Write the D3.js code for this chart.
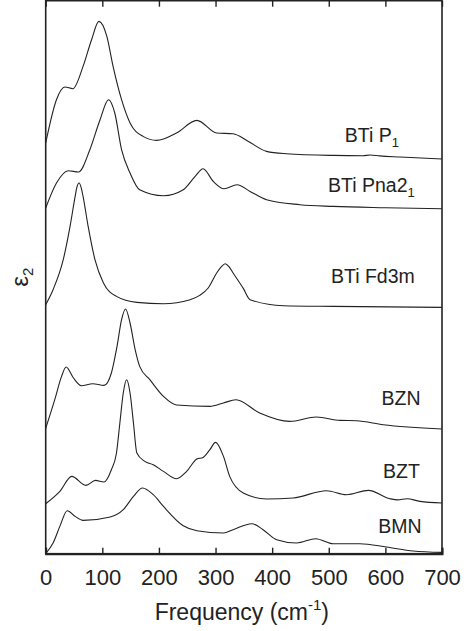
<!DOCTYPE html>
<html>
<head>
<meta charset="utf-8">
<script src="https://cdn.jsdelivr.net/npm/d3@7"></script>
<style>
  body { margin: 0; background: #fff; }
  svg { display: block; }
  text { font-family: "Liberation Sans", Arial, Helvetica, sans-serif; fill: #222; }
</style>
</head>
<body>
<script>
// spectra, frequency in cm-1 and eps2 in arbitrary units above each curve's own offset
const seriesNames = ['BTi P1', 'BTi Pna21', 'BTi Fd3m', 'BZN', 'BZT', 'BMN']
const offsets = [39.47, 34.5, 24.63, 12.47, 5.07, 0.13]

const freqP1 = [0, 19, 34, 48, 66, 81, 94, 108, 119, 134, 149, 172, 196, 231, 267, 302, 331, 358, 390, 425, 508, 560, 573, 590, 626, 700]
const epsP1 = [1.6, 5.93, 7.2, 7.03, 9.26, 11.93, 13.76, 12.26, 9.26, 5.93, 3.6, 2.26, 1.86, 2.6, 3.86, 2.6, 2.53, 1.76, 0.76, 0.53, 0.36, 0.33, 0.4, 0.31, 0.2, 0]

const freqPna = [0, 19, 40, 58, 78, 96, 111, 122, 134, 149, 166, 208, 243, 264, 278, 296, 315, 338, 361, 390, 449, 508, 600, 700]
const epsPna = [0.07, 2.57, 3.8, 3.67, 5.9, 8.9, 10.9, 9.57, 5.9, 3.57, 1.9, 1.3, 1.9, 3.23, 4.0, 2.73, 2.0, 2.4, 1.73, 0.9, 0.4, 0.23, 0.1, 0]

const freqFd3m = [0, 13, 31, 43, 52, 55, 59, 63, 66, 75, 87, 102, 125, 161, 208, 255, 272, 287, 302, 310, 317, 324, 331, 349, 361, 420, 508, 700]
const epsFd3m = [0.27, 1.77, 4.77, 8.1, 11.1, 12.0, 12.44, 11.9, 11.1, 8.1, 4.77, 2.44, 1.1, 0.5, 0.37, 0.77, 1.2, 1.94, 3.44, 4.05, 4.37, 4.05, 3.44, 1.9, 0.77, 0.17, 0.1, 0]

const freqBZN = [0, 16, 28, 36, 49, 63, 83, 103, 116, 126, 134, 141, 149, 158, 166, 184, 208, 231, 290, 314, 336, 378, 431, 478, 520, 549, 596, 700]
const epsBZN = [0.06, 2.93, 5.26, 6.2, 5.1, 4.33, 4.53, 4.36, 5.6, 8.26, 10.93, 12.0, 10.6, 7.93, 6.26, 4.93, 3.26, 2.4, 2.26, 2.6, 2.93, 1.6, 0.76, 1.2, 0.86, 0.83, 0.43, 0]

const freqBZT = [0, 25, 46, 71, 88, 103, 116, 125, 131, 137, 143, 149, 155, 161, 175, 190, 208, 231, 249, 267, 278, 290, 300, 314, 325, 349, 390, 437, 496, 531, 570, 608, 622, 638, 661, 700]
const epsBZT = [-0.07, 1.16, 2.66, 1.76, 2.26, 2.1, 3.33, 5.0, 8.0, 11.0, 12.33, 11.0, 8.0, 5.0, 4.16, 3.83, 3.16, 2.43, 3.16, 4.4, 4.56, 5.33, 6.06, 4.66, 2.66, 1.0, 0.4, 0.5, 1.23, 0.83, 1.26, 0.43, 0.31, 0.43, 0.16, 0]

const freqBMN = [0, 13, 25, 38, 52, 66, 114, 137, 155, 171, 190, 208, 243, 267, 314, 331, 364, 384, 408, 443, 477, 508, 555, 602, 649, 700]
const epsBMN = [-0.13, 0.94, 2.6, 4.17, 3.6, 3.2, 3.54, 4.27, 5.6, 6.44, 5.77, 4.6, 2.67, 2.17, 1.94, 2.27, 2.87, 2.27, 1.27, 0.94, 1.37, 0.87, 0.87, 0.54, 0.14, 0]

const freqs = [freqP1, freqPna, freqFd3m, freqBZN, freqBZT, freqBMN]
const eps = [epsP1, epsPna, epsFd3m, epsBZN, epsBZT, epsBMN]

// label anchors (right end of text), data units
const labelFreq = [624, 652, 652, 662, 661, 664]
const labelEps = [41.2, 36.2, 27.1, 14.9, 7.6, 2.1]

const xTicks = [0, 100, 200, 300, 400, 500, 600, 700]

const width = 475
const height = 631

const svg = d3.select('body').append('svg')
  .attr('width', width)
  .attr('height', height)

const xScale = d3.scaleLinear()
  .domain([0, 700])
  .range([45.7, 442])

const yScale = d3.scaleLinear()
  .domain([0, 55.3])
  .range([553.7, 0.7])

//=================== CURVES ==================
const line = d3.line()
  .x(d => xScale(d[0]))
  .y(d => yScale(d[1]))
  .curve(d3.curveMonotoneX)

seriesNames.forEach((name, i) => {
  const pts = freqs[i].map((f, j) => [f, eps[i][j] + offsets[i]])
  svg.append('path')
    .datum(pts)
    .attr('d', line)
    .attr('fill', 'none')
    .attr('stroke', '#222')
    .attr('stroke-width', 1.1)
})

//=================== FRAME + AXES ==================
const [x0, x1] = xScale.range()
const [yb, yt] = yScale.range()

svg.append('rect')
  .attr('x', x0)
  .attr('y', yt)
  .attr('width', x1 - x0)
  .attr('height', yb - yt)
  .attr('fill', 'none')
  .attr('stroke', '#222')
  .attr('stroke-width', 1.6)

const bottomAxis = svg.append('g')
  .attr('transform', `translate(0,${yb})`)
  .call(d3.axisBottom(xScale).tickValues(xTicks).tickSize(-6).tickPadding(10).tickFormat(d3.format('d')))
bottomAxis.select('.domain').attr('stroke', '#222').attr('stroke-width', 2)
bottomAxis.selectAll('.tick line').attr('stroke', '#222').attr('stroke-width', 1.4)
bottomAxis.selectAll('.tick text')
  .attr('font-size', 22)
  .attr('font-family', '"Liberation Sans", Arial, sans-serif')
  .attr('fill', '#222')
  .attr('dy', '0.95em')

const topAxis = svg.append('g')
  .attr('transform', `translate(0,${yt})`)
  .call(d3.axisTop(xScale).tickValues(xTicks).tickSize(-6).tickFormat(''))
topAxis.select('.domain').remove()
topAxis.selectAll('.tick line').attr('stroke', '#222').attr('stroke-width', 1.4)

//=================== LABELS ==================
const labels = svg.append('g')
seriesNames.forEach((name, i) => {
  const t = labels.append('text')
    .attr('x', xScale(labelFreq[i]))
    .attr('y', yScale(labelEps[i]))
    .attr('text-anchor', 'end')
    .attr('font-size', 19.5)
  if (name === 'BTi P1') {
    t.append('tspan').text('BTi P')
    t.append('tspan').text('1').attr('font-size', 13).attr('dy', 5)
  } else if (name === 'BTi Pna21') {
    t.append('tspan').text('BTi Pna2')
    t.append('tspan').text('1').attr('font-size', 13).attr('dy', 5)
  } else {
    t.text(name)
  }
})

// x title
const xt = svg.append('text')
  .attr('x', (x0 + x1) / 2 - 2)
  .attr('y', 620)
  .attr('text-anchor', 'middle')
  .attr('font-size', 23)
xt.append('tspan').text('Frequency (cm')
xt.append('tspan').text('-1').attr('font-size', 15).attr('dy', -10)
xt.append('tspan').text(')').attr('dy', 10)

// y title
const yt2 = svg.append('text')
  .attr('transform', `translate(28,${(yb + yt) / 2}) rotate(-90)`)
  .attr('text-anchor', 'middle')
  .attr('font-size', 24)
yt2.append('tspan').text('ε')
yt2.append('tspan').text('2').attr('font-size', 15).attr('dy', 5)
</script>
</body>
</html>
